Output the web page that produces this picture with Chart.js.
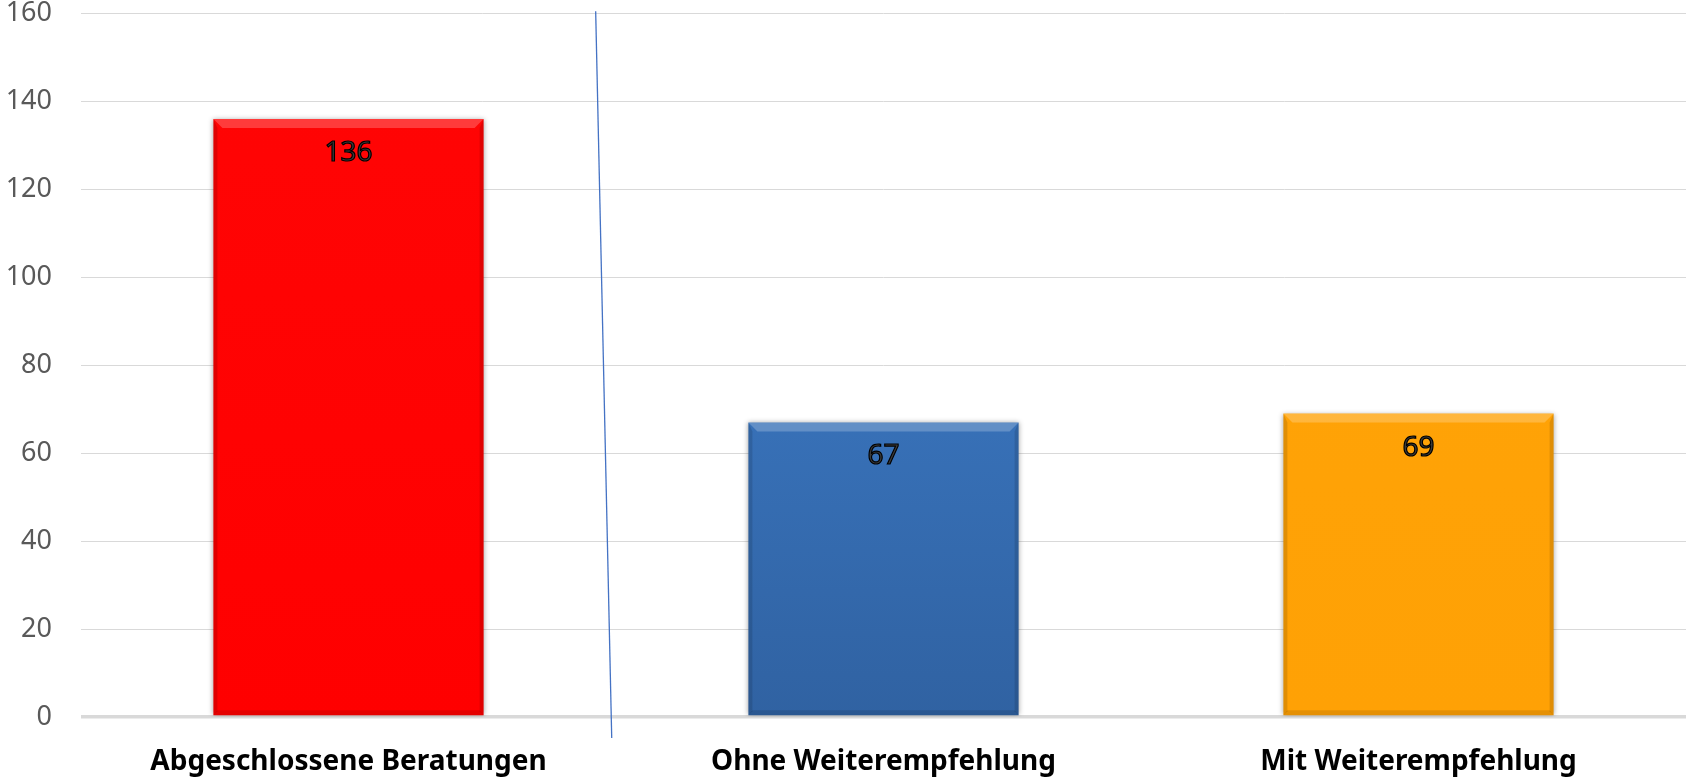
<!DOCTYPE html>
<html>
<head>
<meta charset="utf-8">
<script src="https://cdn.jsdelivr.net/npm/chart.js@4.4.0/dist/chart.umd.min.js"></script>
<style>
  html, body { margin: 0; padding: 0; background: #fff; }
  #wrap { width: 1686px; height: 779px; }
</style>
</head>
<body>
<div id="wrap"><canvas id="beratungChart"></canvas></div>
<script>
// Beratungen: abgeschlossen, ohne / mit Weiterempfehlung
const categories = ['Abgeschlossene Beratungen', 'Ohne Weiterempfehlung', 'Mit Weiterempfehlung'];
const values = [136, 67, 69];
const yTicks = [0, 20, 40, 60, 80, 100, 120, 140, 160];

// bar colours, top -> bottom
const barColors = [
    ['#ff0505', '#ff0000'],
    ['#4184d4', '#3062a2'],
    ['#ffa408', '#ffa105']
];

const ctx = document.getElementById('beratungChart').getContext('2d');

function barFill(context) {
    const chart = context.chart;
    const area = chart.chartArea;
    const c = barColors[context.dataIndex];
    if (!area) return c[0];
    const el = context.element;
    const top = el && el.y != null ? el.y : area.top;
    const g = chart.ctx.createLinearGradient(0, top, 0, area.bottom);
    g.addColorStop(0, c[0]);
    g.addColorStop(1, c[1]);
    return g;
}

// soft shadow + bevel on the bars
const bevelPlugin = {
    id: 'bevel',
    beforeDatasetsDraw(chart) {
        const c = chart.ctx;
        c.save();
        c.shadowColor = 'rgba(0,0,0,0.35)';
        c.shadowBlur = 5;
        c.shadowOffsetX = 0;
        c.shadowOffsetY = 0;
    },
    afterDatasetsDraw(chart) {
        const c = chart.ctx;
        c.restore();
        const meta = chart.getDatasetMeta(0);
        meta.data.forEach((bar) => {
            const l = bar.x - bar.width / 2, r = bar.x + bar.width / 2;
            const t = bar.y, b = bar.base;
            const d = 9;
            c.save();
            // top edge, lighter
            c.fillStyle = 'rgba(255,255,255,0.22)';
            c.beginPath();
            c.moveTo(l, t); c.lineTo(r, t); c.lineTo(r - d, t + d); c.lineTo(l + d, t + d);
            c.closePath(); c.fill();
            // sides, darker
            c.fillStyle = 'rgba(0,0,0,0.12)';
            c.beginPath();
            c.moveTo(l, t); c.lineTo(l + 4, t + d); c.lineTo(l + 4, b - 4); c.lineTo(l, b);
            c.closePath(); c.fill();
            c.beginPath();
            c.moveTo(r, t); c.lineTo(r - 4, t + d); c.lineTo(r - 4, b - 4); c.lineTo(r, b);
            c.closePath(); c.fill();
            // bottom edge
            c.fillStyle = 'rgba(0,0,0,0.10)';
            c.beginPath();
            c.moveTo(l, b); c.lineTo(r, b); c.lineTo(r - 4, b - 5); c.lineTo(l + 4, b - 5);
            c.closePath(); c.fill();
            c.restore();
        });
        // value labels inside the bar top
        c.save();
        c.font = '28px "Noto Sans"';
        c.textAlign = 'center';
        c.textBaseline = 'middle';
        c.lineWidth = 1.2;
        c.strokeStyle = '#000';
        c.fillStyle = '#3c3c3c';
        meta.data.forEach((bar, i) => {
            const txt = String(values[i]);
            c.fillText(txt, bar.x, bar.y + 34);
            c.strokeText(txt, bar.x, bar.y + 34);
        });
        c.restore();
    }
};

// thin separator line between first and second group
const divider = { from: [0.462, 160.5], to: [0.492, -4.8] };
const dividerPlugin = {
    id: 'divider',
    afterDraw(chart) {
        const xs = chart.scales.x, ys = chart.scales.y;
        const step = xs.getPixelForValue(1) - xs.getPixelForValue(0);
        const px = (v) => xs.getPixelForValue(0) + v * step;
        const c = chart.ctx;
        c.save();
        c.strokeStyle = '#4472c4';
        c.lineWidth = 1.3;
        c.beginPath();
        c.moveTo(px(divider.from[0]), ys.getPixelForValue(divider.from[1]));
        c.lineTo(px(divider.to[0]), ys.getPixelForValue(divider.to[1]));
        c.stroke();
        c.restore();
    }
};

const chart = new Chart(ctx, {
    type: 'bar',
    data: {
        labels: categories,
        datasets: [{
            data: values,
            backgroundColor: barFill,
            borderWidth: 0,
            barPercentage: 0.505,
            categoryPercentage: 1
        }]
    },
    options: {
        responsive: true,
        maintainAspectRatio: false,
        animation: false,
        layout: { padding: 0 },
        plugins: {
            legend: { display: false },
            tooltip: { enabled: false }
        },
        scales: {
            x: {
                grid: { display: false },
                border: { display: false },
                ticks: {
                    color: '#000',
                    padding: 20,
                    font: { family: 'Noto Sans', size: 28, weight: 'bold' }
                },
                afterFit(scale) { scale.height = 62; }
            },
            y: {
                min: 0,
                max: 160,
                afterBuildTicks(scale) { scale.ticks = yTicks.map(v => ({ value: v })); },
                grid: {
                    color: '#d9d9d9',
                    lineWidth: (c) => c.tick && c.tick.value === 0 ? 3.5 : 1,
                    drawTicks: false
                },
                border: { display: false },
                ticks: {
                    color: '#595959',
                    padding: 29,
                    font: { family: 'Noto Sans', size: 27 }
                },
                afterFit(scale) {
                    scale.width = 81;
                    scale.paddingTop = 13.5;
                    scale.paddingBottom = 0;
                }
            }
        }
    },
    plugins: [bevelPlugin, dividerPlugin]
});
</script>
</body>
</html>
